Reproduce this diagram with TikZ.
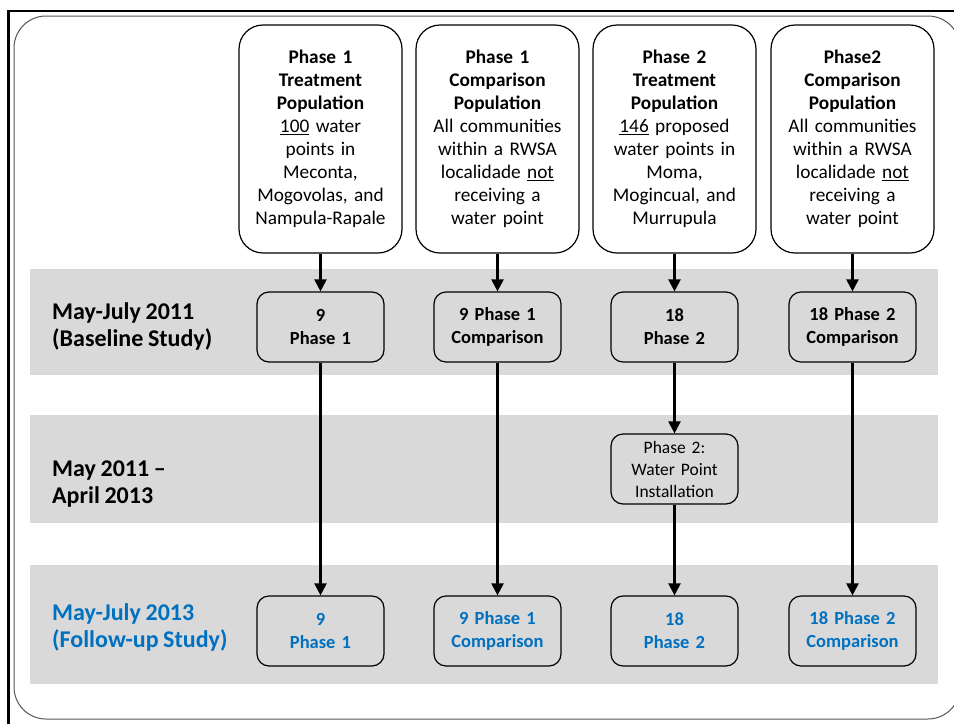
\documentclass[tikz,border=0pt]{standalone}
\usepackage{fontspec}
\setmainfont[WordSpace=0.85]{Carlito}
\usetikzlibrary{arrows.meta, positioning}
\definecolor{bandgray}{HTML}{D9D9D9}
\definecolor{followblue}{HTML}{0070C0}
\definecolor{framegray}{HTML}{555555}

\begin{document}
\begin{tikzpicture}[x=1pt, y=-1pt,
  popbox/.style={draw, rounded corners=24pt, line width=1.2pt, fill=white,
    minimum width=163pt, minimum height=228pt, text width=156pt, align=center,
    inner sep=0pt, font=\fontsize{19.3}{23}\selectfont},
  sitebox/.style={draw, rounded corners=12pt, line width=1.2pt,
    minimum width=127pt, minimum height=70pt, text width=124pt, align=center,
    inner sep=0pt, font=\bfseries\fontsize{18.5}{23}\selectfont},
  rowlabel/.style={anchor=west, align=left, inner sep=0pt,
    font=\bfseries\fontsize{24}{27}\selectfont},
  flow/.style={line width=2.2pt, -{Triangle[length=12pt,width=12pt]}}]
\useasboundingbox (0,0) rectangle (954,724);
% frame
\draw[framegray, line width=1pt, rounded corners=32pt] (14,16) rectangle (960,719);
\draw[line width=2.5pt] (954,11) -- (8.5,11) -- (8.5,724);
% bands
\fill[bandgray] (30,269) rectangle (938,375);
\fill[bandgray] (30,415) rectangle (938,523);
\fill[bandgray] (30,565) rectangle (938,684);

\node[rowlabel] (l1) at (52,326) {May-July 2011\\(Baseline Study)};
\node[rowlabel] (l2) at (52,484) {May 2011 --\\April 2013};
\node[rowlabel, text=followblue] (l3) at (52,627) {May-July 2013\\(Follow-up Study)};

% populations
\node[popbox] (t1) at (320.5,139) {\textbf{Phase 1}\\\textbf{Treatment}\\\textbf{Population}\\\underline{100} water\\points in\\Meconta,\\Mogovolas, and\\Nampula-Rapale};
\node[popbox] (t2) at (497.5,139) {\textbf{Phase 1}\\\textbf{Comparison}\\\textbf{Population}\\All communities\\within a RWSA\\localidade \underline{not}\\receiving a\\water point};
\node[popbox] (t3) at (674.5,139) {\textbf{Phase 2}\\\textbf{Treatment}\\\textbf{Population}\\\underline{146} proposed\\water points in\\Moma,\\Mogincual, and\\Murrupula};
\node[popbox] (t4) at (852.5,139) {\textbf{Phase2}\\\textbf{Comparison}\\\textbf{Population}\\All communities\\within a RWSA\\localidade \underline{not}\\receiving a\\water point};

% baseline
\node[sitebox] (b1) at (320.5,327) {9\\Phase 1};
\node[sitebox] (b2) at (497.5,327) {9 Phase 1\\Comparison};
\node[sitebox] (b3) at (674.5,327) {18\\Phase 2};
\node[sitebox] (b4) at (852.5,327) {18 Phase 2\\Comparison};

\node[sitebox, font=\fontsize{17.5}{22}\selectfont] (inst) at (674.5,469) {Phase 2:\\Water Point\\Installation};

% follow-up
\node[sitebox, text=followblue] (f1) at (320.5,631) {9\\Phase 1};
\node[sitebox, text=followblue] (f2) at (497.5,631) {9 Phase 1\\Comparison};
\node[sitebox, text=followblue] (f3) at (674.5,631) {18\\Phase 2};
\node[sitebox, text=followblue] (f4) at (852.5,631) {18 Phase 2\\Comparison};

\draw[flow] (t1) -- (b1);
\draw[flow] (t2) -- (b2);
\draw[flow] (t3) -- (b3);
\draw[flow] (t4) -- (b4);
\draw[flow] (b1) -- (f1);
\draw[flow] (b2) -- (f2);
\draw[flow] (b3) -- (inst);
\draw[flow] (inst) -- (f3);
\draw[flow] (b4) -- (f4);
\end{tikzpicture}
\end{document}
